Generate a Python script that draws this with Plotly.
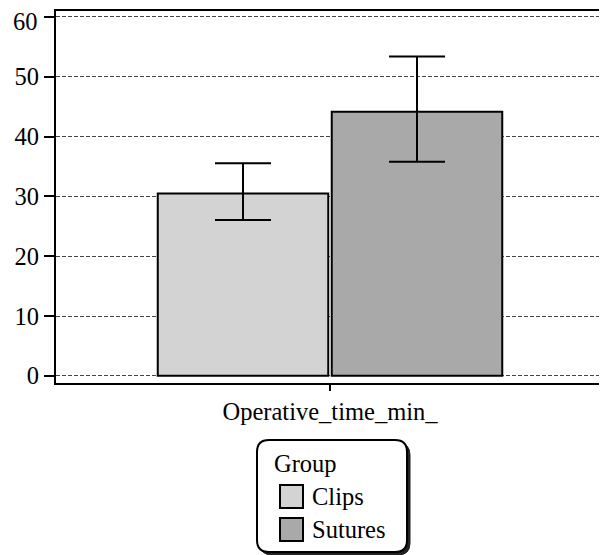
import plotly.graph_objects as go

categories = ["Operative_time_min_"]
groups = ["Clips", "Sutures"]
means = [30.5, 44.15]
err_plus = [5.05, 9.25]
err_minus = [4.45, 8.35]
colors = ["#d3d3d3", "#a9a9a9"]
y_ticks = [0, 10, 20, 30, 40, 50, 60]
y_tick_labels = ["0", "10", "20", "30", "40", "50", "60"]

FONT = "Liberation Serif"
FS = 24.5
OFF = 8  # page body margin
W, H = 607 - OFF, 555 - OFF
L, R, T, B = 56 - OFF, 604 - OFF, 11 - OFF, 383 - OFF


def px(X):
    return (X - OFF - L) / (R - L)


def py(Y):
    return (B - (Y - OFF)) / (B - T)


fig = go.Figure()
for g, m, ep, em, c in zip(groups, means, err_plus, err_minus, colors):
    fig.add_trace(go.Bar(
        name=g, x=categories, y=[m],
        marker=dict(color=c, line=dict(color="black", width=2)),
        error_y=dict(type="data", array=[ep], arrayminus=[em], symmetric=False,
                     visible=True, color="black", thickness=2, width=28),
        showlegend=False,
    ))


def rounded_path(x0, y0, x1, y1, r):
    def P(X, Y):
        return f"{px(X):.5f},{py(Y):.5f}"
    d = f"M {P(x0 + r, y0)} L {P(x1 - r, y0)} Q {P(x1, y0)} {P(x1, y0 + r)} "
    d += f"L {P(x1, y1 - r)} Q {P(x1, y1)} {P(x1 - r, y1)} "
    d += f"L {P(x0 + r, y1)} Q {P(x0, y1)} {P(x0, y1 - r)} "
    d += f"L {P(x0, y0 + r)} Q {P(x0, y0)} {P(x0 + r, y0)} Z"
    return d


shapes = []
shapes.append(dict(type="path", xref="paper", yref="paper",
                   path=rounded_path(260, 443, 410, 555, 12),
                   fillcolor="#222", line=dict(color="#222", width=1), layer="above"))
shapes.append(dict(type="path", xref="paper", yref="paper",
                   path=rounded_path(257, 440, 407, 552, 12),
                   fillcolor="white", line=dict(color="black", width=2), layer="above"))
annotations = [dict(text="Group", x=px(272), y=py(463), xref="paper", yref="paper",
                    xanchor="left", yanchor="middle", showarrow=False,
                    font=dict(family=FONT, size=FS, color="black"))]
sw_y = [485, 518]
for g, c, yy in zip(groups, colors, sw_y):
    shapes.append(dict(type="rect", xref="paper", yref="paper",
                       x0=px(280), x1=px(303), y0=py(yy), y1=py(yy + 23),
                       fillcolor=c, line=dict(color="black", width=2), layer="above"))
    annotations.append(dict(text=g, x=px(310), y=py(yy + 11.5), xref="paper", yref="paper",
                            xanchor="left", yanchor="middle", showarrow=False,
                            font=dict(family=FONT, size=FS, color="black")))

# top tick label nudged down (as in the reference) so it is not cut off
tick_text = list(y_tick_labels)
annotations.append(dict(text=tick_text[-1], x=px(40), y=py(22), xref="paper", yref="paper",
                        xanchor="right", yanchor="middle", showarrow=False,
                        font=dict(family=FONT, size=FS, color="black")))
tick_text[-1] = ""

fig.update_layout(
    width=W, height=H,
    margin=dict(l=L, r=W - R, t=T, b=H - B, pad=0, autoexpand=False),
    paper_bgcolor="white", plot_bgcolor="white",
    barmode="group", bargap=0.365, bargroupgap=0.02,
    font=dict(family=FONT, size=FS, color="black"),
    shapes=shapes, annotations=annotations,
    showlegend=False,
)
fig.update_xaxes(
    showline=True, linecolor="black", linewidth=2, mirror=True,
    ticks="outside", ticklen=6, tickwidth=2, tickcolor="black",
    showgrid=False, tickfont=dict(family=FONT, size=FS), automargin=False,
)
fig.update_yaxes(
    range=[-1.2, 61], tickvals=y_ticks, ticktext=tick_text,
    showline=True, linecolor="black", linewidth=2, mirror=True,
    ticks="outside", ticklen=10, tickwidth=2, tickcolor="black",
    showgrid=True, gridcolor="#444", gridwidth=1, griddash="4px,2px",
    zeroline=False, tickfont=dict(family=FONT, size=FS),
    ticklabeloverflow="allow", automargin=False,
)
fig.write_html("out.html")
